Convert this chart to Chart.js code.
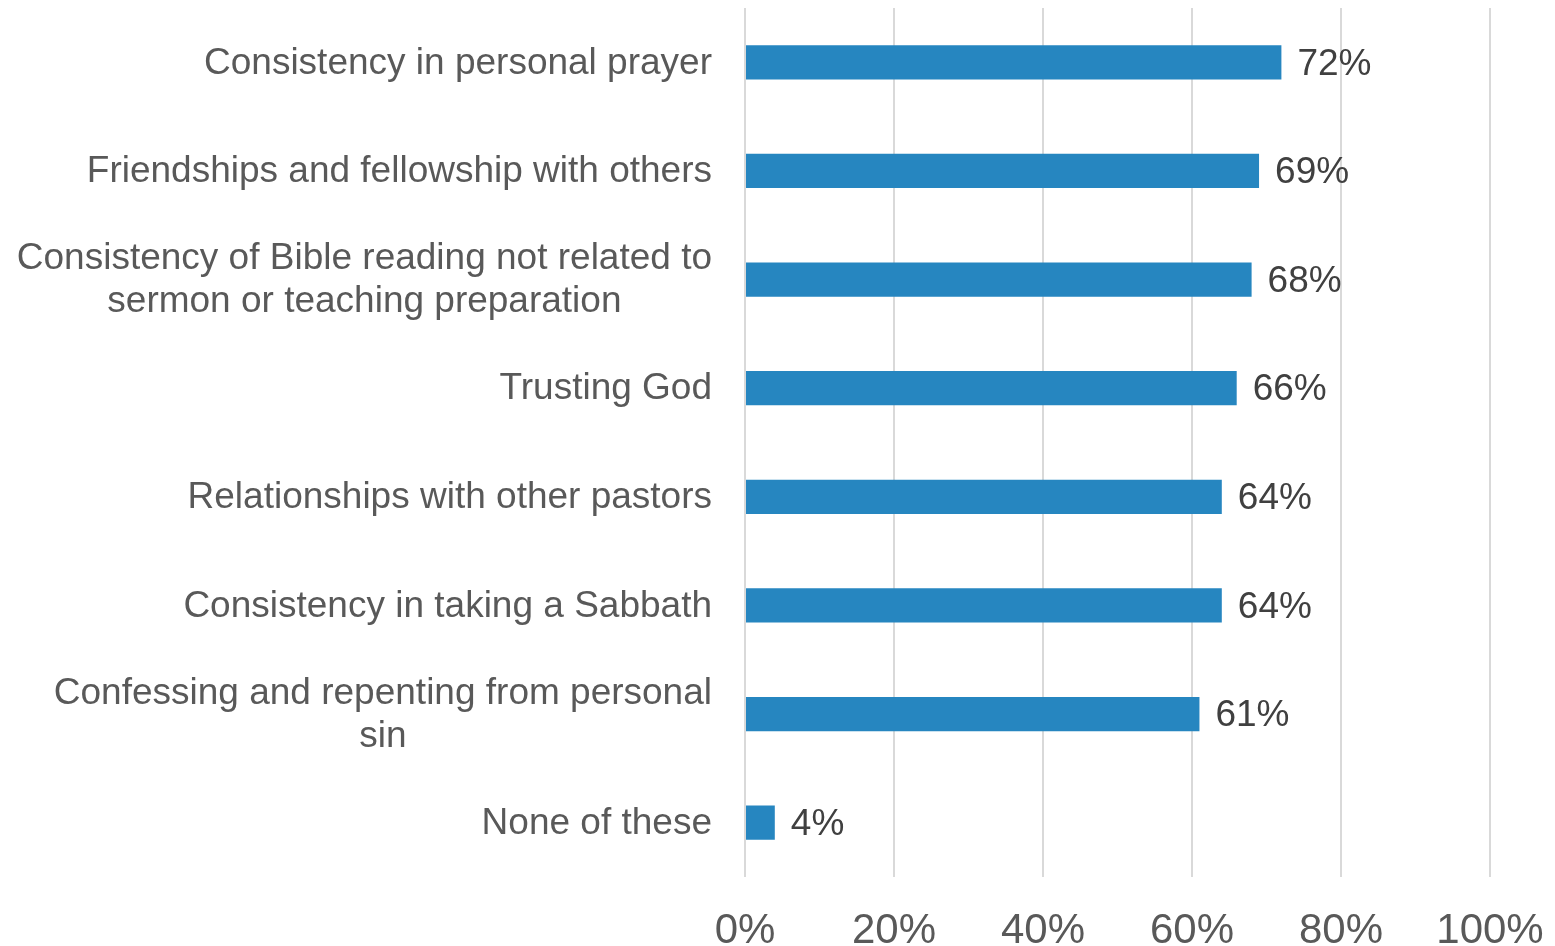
<!DOCTYPE html>
<html>
<head>
<meta charset="utf-8">
<script src="https://cdn.jsdelivr.net/npm/chart.js@4/dist/chart.umd.min.js"></script>
<style>
  html, body { margin: 0; padding: 0; background: #ffffff; }
  #wrap { width: 1555px; height: 946px; position: relative; }
</style>
</head>
<body>
<div id="wrap"><canvas id="c"></canvas></div>
<script>
const categories = [
  "Consistency in personal prayer",
  "Friendships and fellowship with others",
  ["Consistency of Bible reading not related to", "sermon or teaching preparation"],
  "Trusting God",
  "Relationships with other pastors",
  "Consistency in taking a Sabbath",
  ["Confessing and repenting from personal", "sin"],
  "None of these"
];
const values = [72, 69, 68, 66, 64, 64, 61, 4];
const tickValues = [0, 20, 40, 60, 80, 100];

const FONT = "'Liberation Sans', Arial, sans-serif";

const valueLabels = {
  id: 'valueLabels',
  afterDatasetsDraw(chart) {
    const ctx = chart.ctx;
    const meta = chart.getDatasetMeta(0);
    ctx.save();
    ctx.font = "37px " + FONT;
    ctx.fillStyle = "#404040";
    ctx.textAlign = "left";
    ctx.textBaseline = "middle";
    meta.data.forEach((bar, i) => {
      ctx.fillText(values[i] + "%", bar.x + 16, bar.y + 2);
    });
    ctx.restore();
  }
};

// Category labels: block right-aligned at the axis, lines centred within the block
const categoryLabels = {
  id: 'categoryLabels',
  afterDraw(chart) {
    const ctx = chart.ctx;
    const y = chart.scales.y;
    const right = chart.chartArea.left - 33;
    const lineH = 43;
    ctx.save();
    ctx.font = "37px " + FONT;
    ctx.fillStyle = "#595959";
    ctx.textAlign = "center";
    ctx.textBaseline = "middle";
    categories.forEach((lab, i) => {
      const lines = Array.isArray(lab) ? lab : [lab];
      const w = Math.max(...lines.map(l => ctx.measureText(l).width));
      const cx = right - w / 2;
      const cy = y.getPixelForTick(i);
      const y0 = cy - (lines.length - 1) * lineH / 2;
      lines.forEach((l, k) => ctx.fillText(l, cx, y0 + k * lineH + 1));
    });
    ctx.restore();
  }
};

new Chart(document.getElementById('c'), {
  type: 'bar',
  data: {
    labels: categories,
    datasets: [{
      data: values,
      backgroundColor: '#2686C0',
      borderWidth: 0,
      categoryPercentage: 1,
      barPercentage: 0.315
    }]
  },
  options: {
    indexAxis: 'y',
    responsive: true,
    maintainAspectRatio: false,
    animation: false,
    layout: { padding: { top: 8, right: 65, left: 0, bottom: 0 } },
    plugins: { legend: { display: false }, tooltip: { enabled: false } },
    scales: {
      x: {
        min: 0, max: 100,
        afterBuildTicks(scale) { scale.ticks = tickValues.map(v => ({ value: v })); },
        afterFit(scale) {
          scale.height = 69;
          scale.paddingLeft = 0; scale.paddingRight = 0;
          scale.paddingTop = 0; scale.paddingBottom = 0;
        },
        grid: { color: '#d9d9d9', lineWidth: 2, drawTicks: false },
        border: { display: false },
        ticks: {
          padding: 29,
          color: '#595959',
          font: { family: FONT, size: 42 },
          callback: v => v + '%',
          maxRotation: 0
        }
      },
      y: {
        afterFit(scale) {
          scale.width = 745;
          scale.paddingLeft = 0; scale.paddingRight = 0;
          scale.paddingTop = 0; scale.paddingBottom = 0;
        },
        grid: { display: false, drawTicks: false },
        border: { display: false },
        ticks: { display: false }
      }
    }
  },
  plugins: [valueLabels, categoryLabels]
});
</script>
</body>
</html>
